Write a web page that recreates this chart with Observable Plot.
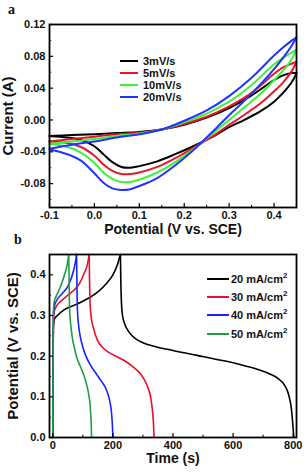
<!DOCTYPE html>
<html><head><meta charset="utf-8">
<script src="https://cdn.jsdelivr.net/npm/d3@7"></script>
<script src="https://cdn.jsdelivr.net/npm/@observablehq/plot@0.6"></script>
<style>
body{margin:0;background:#fff;}
#wrap{position:relative;width:308px;height:473px;overflow:hidden;font-family:"Liberation Sans",Arial,sans-serif;background:#fff;}
.panel{position:absolute;left:0;}
.plabel{position:absolute;font-family:"Liberation Serif",serif;font-weight:bold;font-size:14px;color:#111;}
.legend{position:absolute;font-weight:bold;font-size:11px;color:#111;}
.legend .row{position:absolute;left:0;display:flex;align-items:center;white-space:nowrap;height:12px;}
.legend .sw{display:inline-block;height:2px;}
.legend sup{font-size:8px;line-height:0;}
</style></head>
<body><div id="wrap"></div>
<script>
// ---------- Panel a: cyclic voltammetry ----------
const cvSeries = ["3mV/s", "5mV/s", "10mV/s", "20mV/s"];
const cvColors = ["#000000", "#e8162a", "#3cf03c", "#2233ff"];

// anodic (upper) branch, potential increasing
const cvUpperV = [-0.1, -0.05, 0.0, 0.05, 0.1, 0.15, 0.2, 0.25, 0.3, 0.35, 0.4, 0.42, 0.44, 0.45];
const cvUpper3  = [-0.020, -0.019, -0.018, -0.0165, -0.015, -0.012, -0.006, 0.003, 0.015, 0.031, 0.050, 0.056, 0.059, 0.059];
const cvUpper5  = [-0.027, -0.024, -0.021, -0.018, -0.016, -0.012, -0.005, 0.004, 0.017, 0.034, 0.058, 0.066, 0.071, 0.073];
const cvUpper10 = [-0.030, -0.027, -0.024, -0.020, -0.017, -0.012, -0.003, 0.008, 0.023, 0.044, 0.070, 0.078, 0.085, 0.088];
const cvUpper20 = [-0.036, -0.031, -0.027, -0.022, -0.018, -0.012, -0.001, 0.012, 0.030, 0.053, 0.081, 0.091, 0.100, 0.104];

// cathodic (lower) branch, potential decreasing
const cvLowerV = [0.45, 0.44, 0.42, 0.40, 0.37, 0.33, 0.30, 0.27, 0.22, 0.18, 0.14, 0.10, 0.08, 0.06, 0.04, 0.02, 0.0, -0.03, -0.06, -0.1];
const cvLower3  = [0.059, 0.048, 0.034, 0.023, 0.011, -0.001, -0.009, -0.019, -0.033, -0.043, -0.052, -0.058, -0.060, -0.059, -0.053, -0.043, -0.033, -0.025, -0.022, -0.020];
const cvLower5  = [0.073, 0.062, 0.047, 0.036, 0.021, 0.005, -0.006, -0.018, -0.035, -0.048, -0.059, -0.066, -0.068, -0.068, -0.064, -0.056, -0.045, -0.034, -0.029, -0.027];
const cvLower10 = [0.088, 0.077, 0.062, 0.050, 0.033, 0.014, 0.0, -0.014, -0.037, -0.053, -0.066, -0.075, -0.078, -0.078, -0.074, -0.066, -0.054, -0.041, -0.034, -0.030];
const cvLower20 = [0.104, 0.094, 0.078, 0.064, 0.045, 0.022, 0.006, -0.011, -0.038, -0.057, -0.073, -0.083, -0.087, -0.088, -0.086, -0.079, -0.067, -0.051, -0.043, -0.037];

const cvXTicks = [-0.1, 0.0, 0.1, 0.2, 0.3, 0.4];
const cvXMinor = [-0.05, 0.05, 0.15, 0.25, 0.35];
const cvYTicks = [-0.08, -0.04, 0.0, 0.04, 0.08, 0.12];
const cvYMinor = [-0.10, -0.06, -0.02, 0.02, 0.06, 0.10];
const cvXLabel = "Potential (V vs. SCE)";
const cvYLabel = "Current (A)";

// ---------- Panel b: galvanostatic charge-discharge ----------
const gcdSeries = ["20", "30", "40", "50"];   // mA/cm2
const gcdColors = ["#000000", "#e8102a", "#1a22ff", "#1e9e44"];

const gcdChargeT20 = [0, 1, 2, 5, 15, 40, 80, 120, 150, 180, 200, 215, 225];
const gcdChargeU20 = [0, 0.20, 0.27, 0.29, 0.30, 0.315, 0.328, 0.343, 0.358, 0.38, 0.40, 0.425, 0.45];
const gcdDisT20 = [225, 226, 228, 232, 240, 255, 275, 300, 340, 400, 480, 560, 620, 680, 720, 750, 770, 785, 794, 799, 802];
const gcdDisU20 = [0.45, 0.40, 0.34, 0.30, 0.278, 0.258, 0.243, 0.233, 0.224, 0.214, 0.202, 0.19, 0.18, 0.168, 0.157, 0.145, 0.13, 0.105, 0.07, 0.03, 0];

const gcdChargeT30 = [0, 1, 2, 5, 15, 30, 50, 70, 90, 105, 115, 121];
const gcdChargeU30 = [0, 0.20, 0.28, 0.31, 0.326, 0.337, 0.35, 0.362, 0.38, 0.405, 0.425, 0.45];
const gcdDisT30 = [121, 122, 124, 128, 135, 148, 165, 185, 215, 240, 265, 290, 305, 318, 326, 331, 335, 337];
const gcdDisU30 = [0.45, 0.40, 0.33, 0.295, 0.27, 0.24, 0.222, 0.21, 0.198, 0.188, 0.175, 0.158, 0.142, 0.12, 0.098, 0.07, 0.035, 0];

const gcdChargeT40 = [0, 1, 2, 5, 10, 30, 52, 69, 75, 79];
const gcdChargeU40 = [0, 0.22, 0.30, 0.322, 0.333, 0.353, 0.374, 0.41, 0.43, 0.45];
const gcdDisT40 = [79, 80, 81, 83, 86, 91, 100, 112, 128, 145, 162, 178, 188, 194, 198, 200];
const gcdDisU40 = [0.45, 0.40, 0.34, 0.30, 0.275, 0.25, 0.222, 0.197, 0.175, 0.156, 0.138, 0.118, 0.095, 0.07, 0.035, 0];

const gcdChargeT50 = [0, 1, 2, 5, 10, 25, 41, 48, 53];
const gcdChargeU50 = [0, 0.24, 0.31, 0.335, 0.345, 0.37, 0.405, 0.425, 0.45];
const gcdDisT50 = [53, 54, 55, 57, 60, 65, 72, 80, 92, 102, 111, 118, 123, 126, 128, 129];
const gcdDisU50 = [0.45, 0.40, 0.34, 0.30, 0.275, 0.245, 0.22, 0.196, 0.174, 0.156, 0.135, 0.112, 0.088, 0.06, 0.03, 0];

const gcdXTicks = [0, 200, 400, 600, 800];
const gcdXMinor = [100, 300, 500, 700];
const gcdYTicks = [0, 0.1, 0.2, 0.3, 0.4];
const gcdYMinor = [0.05, 0.15, 0.25, 0.35];
const gcdXLabel = "Time (s)";
const gcdYLabel = "Potential (V vs. SCE)";

// ---------- build rows ----------
const cvUp = [cvUpper3, cvUpper5, cvUpper10, cvUpper20];
const cvDown = [cvLower3, cvLower5, cvLower10, cvLower20];
const cvRows = [];
cvSeries.forEach((s, i) => {
  cvUpperV.forEach((v, j) => cvRows.push({s, b: "up", V: v, I: cvUp[i][j]}));
  cvLowerV.forEach((v, j) => cvRows.push({s, b: "down", V: v, I: cvDown[i][j]}));
});

const gcdCT = [gcdChargeT20, gcdChargeT30, gcdChargeT40, gcdChargeT50];
const gcdCU = [gcdChargeU20, gcdChargeU30, gcdChargeU40, gcdChargeU50];
const gcdDT = [gcdDisT20, gcdDisT30, gcdDisT40, gcdDisT50];
const gcdDU = [gcdDisU20, gcdDisU30, gcdDisU40, gcdDisU50];
const gcdRows = [];
gcdSeries.forEach((s, i) => {
  gcdCT[i].forEach((t, j) => gcdRows.push({s, b: "c", t, U: gcdCU[i][j]}));
  gcdDT[i].forEach((t, j) => gcdRows.push({s, b: "d", t, U: gcdDU[i][j]}));
});

const font = "Liberation Sans, Arial, sans-serif";
const W = 308;

// ---------- Panel a plot ----------
const aXDom = [-0.1, 0.45], aYDom = [-0.11, 0.12];
const plotA = Plot.plot({
  width: W, height: 240,
  marginLeft: 49, marginRight: 12, marginTop: 24, marginBottom: 33,
  x: {domain: aXDom}, y: {domain: aYDom},
  color: {domain: cvSeries, range: cvColors},
  style: {fontFamily: font, background: "transparent", overflow: "visible"},
  marks: [
    Plot.line(cvRows, {x: "V", y: "I", z: d => d.s + d.b, stroke: "s", strokeWidth: 2, curve: "catmull-rom"}),
    Plot.ruleX(cvXTicks, {x: d => d, y1: aYDom[0], y2: aYDom[0] + 0.005, stroke: "#000", strokeWidth: 1.2}),
    Plot.ruleX(cvXMinor, {x: d => d, y1: aYDom[0], y2: aYDom[0] + 0.0028, stroke: "#000", strokeWidth: 1}),
    Plot.ruleY(cvYTicks, {y: d => d, x1: aXDom[0], x2: aXDom[0] + 0.009, stroke: "#000", strokeWidth: 1.2}),
    Plot.ruleY(cvYMinor, {y: d => d, x1: aXDom[0], x2: aXDom[0] + 0.005, stroke: "#000", strokeWidth: 1}),
    Plot.frame({stroke: "#000", strokeWidth: 1.8}),
    Plot.axisX(cvXTicks, {tickSize: 0, tickPadding: 4, label: null, tickFormat: d => d.toFixed(1), fontWeight: "bold", fontSize: 11, fill: "#111"}),
    Plot.axisY(cvYTicks, {tickSize: 0, tickPadding: 4, label: null, tickFormat: d => d.toFixed(2), fontWeight: "bold", fontSize: 11, fill: "#111"}),
    Plot.text([cvXLabel], {text: d => d, frameAnchor: "bottom", dy: 22, fontSize: 14, fontWeight: "bold", fill: "#111", lineAnchor: "middle", textAnchor: "middle"}),
    Plot.text([cvYLabel], {text: d => d, frameAnchor: "left", dx: -41, rotate: -90, fontSize: 15, fontWeight: "bold", fill: "#111", lineAnchor: "middle", textAnchor: "middle"})
  ]
});

// ---------- Panel b plot ----------
const bXDom = [-11, 811], bYDom = [0, 0.45];
const plotB = Plot.plot({
  width: W, height: 233,
  marginLeft: 49, marginRight: 12, marginTop: 14, marginBottom: 36,
  x: {domain: bXDom}, y: {domain: bYDom},
  color: {domain: gcdSeries, range: gcdColors},
  style: {fontFamily: font, background: "transparent", overflow: "visible"},
  marks: [
    Plot.line(gcdRows, {x: "t", y: "U", z: d => d.s + d.b, stroke: "s", strokeWidth: 1.6, curve: "monotone-x"}),
    Plot.ruleX(gcdXTicks, {x: d => d, y1: bYDom[0], y2: bYDom[0] + 0.01, stroke: "#000", strokeWidth: 1.2}),
    Plot.ruleX(gcdXMinor, {x: d => d, y1: bYDom[0], y2: bYDom[0] + 0.0055, stroke: "#000", strokeWidth: 1}),
    Plot.ruleY(gcdYTicks, {y: d => d, x1: bXDom[0], x2: bXDom[0] + 13, stroke: "#000", strokeWidth: 1.2}),
    Plot.ruleY(gcdYMinor, {y: d => d, x1: bXDom[0], x2: bXDom[0] + 7, stroke: "#000", strokeWidth: 1}),
    Plot.frame({stroke: "#000", strokeWidth: 1.8}),
    Plot.axisX(gcdXTicks, {tickSize: 0, tickPadding: 4, label: null, tickFormat: d => String(d), fontWeight: "bold", fontSize: 11, fill: "#111"}),
    Plot.axisY(gcdYTicks, {tickSize: 0, tickPadding: 4, label: null, tickFormat: d => d.toFixed(1), fontWeight: "bold", fontSize: 11, fill: "#111"}),
    Plot.text([gcdXLabel], {text: d => d, frameAnchor: "bottom", dy: 21, fontSize: 14, fontWeight: "bold", fill: "#111", lineAnchor: "middle", textAnchor: "middle"}),
    Plot.text([gcdYLabel], {text: d => d, frameAnchor: "left", dx: -36, rotate: -90, fontSize: 15, fontWeight: "bold", fill: "#111", lineAnchor: "middle", textAnchor: "middle"})
  ]
});

// ---------- assemble ----------
const wrap = document.getElementById("wrap");
function place(node, top) { node.classList.add("panel"); node.style.top = top + "px"; wrap.appendChild(node); }
place(plotA, 0);
place(plotB, 240);

function panelLabel(txt, left, top) {
  const d = document.createElement("div");
  d.className = "plabel"; d.textContent = txt;
  d.style.left = left + "px"; d.style.top = top + "px";
  wrap.appendChild(d);
}
panelLabel("a", 8, 2);
panelLabel("b", 14, 232);

function legend(items, colors, left, top, step, swW, gap, html) {
  const box = document.createElement("div");
  box.className = "legend";
  box.style.left = left + "px"; box.style.top = top + "px";
  items.forEach((it, i) => {
    const r = document.createElement("div");
    r.className = "row"; r.style.top = (i * step) + "px";
    const sw = document.createElement("span");
    sw.className = "sw"; sw.style.width = swW + "px"; sw.style.background = colors[i]; sw.style.marginRight = gap + "px";
    r.appendChild(sw);
    const t = document.createElement("span");
    if (html) t.innerHTML = html(it); else t.textContent = it;
    r.appendChild(t);
    box.appendChild(r);
  });
  wrap.appendChild(box);
}
legend(cvSeries, cvColors, 120, 55, 12, 18, 5, null);
legend(gcdSeries, gcdColors, 207, 273, 18.2, 22, 2, s => s + " mA/cm<sup>2</sup>");
</script></body></html>
